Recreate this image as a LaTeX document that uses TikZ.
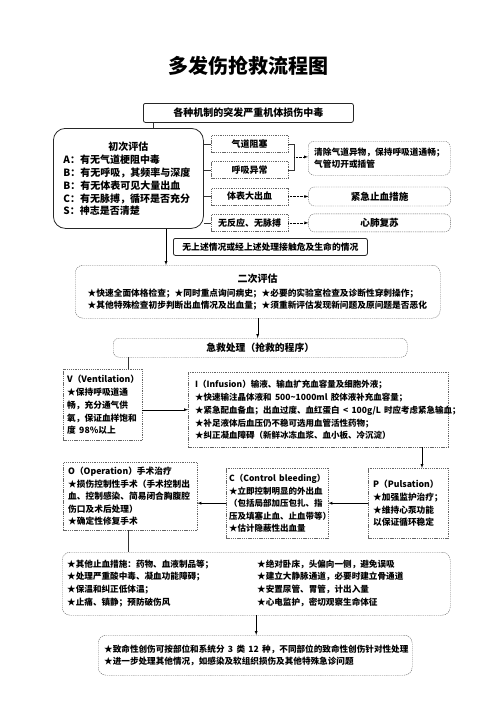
\documentclass[tikz,border=0pt]{standalone}
\usepackage{fontspec}
\setmainfont{Noto Sans CJK SC}
\usepackage{tikz}
\usetikzlibrary{positioning, calc, arrows}
\tikzstyle{arrow} = [thin,->,>=latex]
\tikzstyle{dotarrow} = [thin,->,>=latex,densely dotted]
\tikzstyle{link} = [thin,draw=black!80]

\begin{document}
\begin{tikzpicture}[x=1pt,y=-1pt,
solidbox/.style={rectangle, draw=black!85, thick, rounded corners=2pt, anchor=north west, inner sep=0pt, font=\bfseries},
dashbox/.style={rectangle, draw=black!60, dash pattern=on 1.3pt off 0.9pt, anchor=north west, inner sep=0pt, font=\bfseries},
roundbox/.style={dashbox, rounded corners=6pt},
smallbox/.style={dashbox, minimum width=77pt, minimum height=17pt, font=\bfseries\fontsize{9}{11}\selectfont}
]
\useasboundingbox (0,0) rectangle (496,702);
\node (title) at (248,66) {\fontsize{20}{22}\selectfont\bfseries 多发伤抢救流程图};

% first assessment
\node[solidbox, minimum width=210pt, minimum height=19pt] (injury) at (143,103)
  {\fontsize{10}{12}\selectfont 各种机制的突发严重机体损伤中毒};
\node[solidbox, rounded corners=12pt, minimum width=150pt, minimum height=100pt, text width=130pt, align=left] (first) at (53,128)
  {\fontsize{10}{13}\selectfont\makebox[130pt]{初次评估}\\A：有无气道梗阻中毒\\B：有无呼吸，其频率与深度\\B：有无体表可见大量出血\\C：有无脉搏，循环是否充分\\S：神志是否清楚};
\node[smallbox] (b1) at (211,135) {气道阻塞};
\node[smallbox] (b2) [below=9pt of b1] {呼吸异常};
\node[smallbox] (b3) [below=9pt of b2] {体表大出血};
\node[smallbox] (b4) [below=9pt of b3] {无反应、无脉搏};
\node[roundbox, minimum width=142pt, minimum height=34pt, text width=130pt, align=left] (r1) at (308,141)
  {\fontsize{8.7}{14}\selectfont 清除气道异物，保持呼吸道通畅；\\气管切开或插管};
\node[roundbox, minimum width=142pt, minimum height=19pt] (r2) [right=20pt of b3]
  {\fontsize{9.6}{11}\selectfont 紧急止血措施};
\node[roundbox, minimum width=142pt, minimum height=18pt] (r3) [right=20pt of b4]
  {\fontsize{9.6}{11}\selectfont 心肺复苏};
\node[solidbox, minimum width=194pt, minimum height=17pt] (none) at (173,238)
  {\fontsize{8.8}{10}\selectfont 无上述情况或经上述处理接触危及生命的情况};

% second assessment and rescue
\node[roundbox, rounded corners=8pt, minimum width=365pt, minimum height=53pt, text width=340pt, align=left] (second) at (75,265)
  {\fontsize{8.7}{14}\selectfont\makebox[340pt]{\fontsize{10}{14}\selectfont 二次评估}\\★快速全面体格检查；★同时重点询问病史；★必要的实验室检查及诊断性穿刺操作；\\★其他特殊检查初步判断出血情况及出血量；★须重新评估发现新问题及原问题是否恶化};
\node[roundbox, minimum width=294pt, minimum height=19pt] (rescue) at (113,338)
  {\fontsize{9.8}{11}\selectfont 急救处理（抢救的程序）};
\node[dashbox, minimum width=79pt, minimum height=71pt, text width=71pt, align=left] (V) at (63,369)
  {\fontsize{8.7}{13.2}\selectfont V（Ventilation）\\★保持呼吸道通\\畅，充分通气供\\氧，保证血样饱和\\\mbox{度 98\%以上}};
\node[dashbox, minimum width=260pt, minimum height=75pt, text width=246pt, align=left] (I) at (188,372)
  {\fontsize{8.5}{12.8}\selectfont I（Infusion）输液、输血扩充血容量及细胞外液；\\\mbox{★快速输注晶体液和 500\textasciitilde1000ml 胶体液补充血容量；}\\\mbox{★紧急配血备血；出血过度、血红蛋白 < 100g/L 时应考虑紧急输血；}\\★补足液体后血压仍不稳可选用血管活性药物；\\★纠正凝血障碍（新鲜冰冻血浆、血小板、冷沉淀）};
\node[dashbox, minimum width=80pt, minimum height=70pt, text width=70pt, align=left] (P) at (368,468)
  {\fontsize{8.7}{13}\selectfont P（Pulsation）\\★加强监护治疗；\\★维持心泵功能\\以保证循环稳定};
\node[dashbox, minimum width=102pt, minimum height=70pt, text width=96pt, align=left] (C) at (226,468)
  {\fontsize{8.5}{12.8}\selectfont \mbox{C（Control bleeding）}\\★立即控制明显的外出血\\（包括局部加压包扎、指\\压及填塞止血、止血带等）\\★估计隐蔽性出血量};
\node[dashbox, minimum width=134pt, minimum height=68pt, text width=124pt, align=left] (O) at (63,462)
  {\fontsize{8.7}{12.6}\selectfont O（Operation）手术治疗\\★损伤控制性手术（手术控制出\\血、控制感染、简易闭合胸腹腔\\伤口及术后处理）\\★确定性修复手术};
\node[roundbox, rounded corners=8pt, minimum width=388pt, minimum height=63pt, text width=378pt, align=left] (other) at (62,552)
  {\fontsize{8.6}{12.8}\selectfont\begin{tabular}{@{}p{190pt}@{}l@{}}
  ★其他止血措施：药物、血液制品等； & ★绝对卧床，头偏向一侧，避免误吸\\
  ★处理严重酸中毒、凝血功能障碍； & ★建立大静脉通道，必要时建立骨通道\\
  ★保温和纠正低体温； & ★安置尿管、胃管，计出入量\\
  ★止痛、镇静；预防破伤风 & ★心电监护，密切观察生命体征
  \end{tabular}};
\node[roundbox, rounded corners=8pt, minimum width=314pt, minimum height=40pt, text width=302pt, align=left] (final) at (98,635)
  {\fontsize{8.6}{12.5}\selectfont \mbox{★致命性创伤可按部位和系统分 3 类 12 种，不同部位的致命性创伤针对性处理}\\★进一步处理其他情况，如感染及软组织损伤及其他特殊急诊问题};

% connectors
\coordinate (j1) at (153,0);
\coordinate (j2) at (166,0);
\coordinate (j3) at (128,0);
\coordinate (j4) at (422,0);
\draw[link] (injury.south -| j1) -- (first.north -| j1);
\draw[link] (first.east |- b1) -- (b1);
\draw[link] (first.east |- b2) -- (b2);
\draw[link] (first.east |- b3) -- (b3);
\draw[link] (first.east |- b4) -- (b4);
\draw[link] (b1.east) -- ++(6,0) |- (b2.east);
\coordinate (br) at ($(b1.east)!0.5!(b2.east)+(6,0)$);
\draw[dotarrow] (br) -- (r1.west |- br);
\draw[dotarrow] (b3) -- (r2);
\draw[dotarrow] (b4) -- (r3);
\draw[arrow] (first.south -| j2) -- (second.north -| j2);
\draw[arrow] (second.south) -- (rescue.north -| second.south);
\draw[link] (rescue.south -| j3) -- (V.north -| j3);
\draw[arrow] (V.east |- I.west) -- (I.west);
\draw[arrow] (I.south -| j4) -- (P.north -| j4);
\draw[arrow] (P.west) -- (C.east);
\draw[arrow] (C.west) -- (O.east |- C.west);
\draw[link] (O.south -| j3) -- (other.north -| j3);
\draw[arrow] (other.south) -- (final.north -| other.south);
\end{tikzpicture}
\end{document}
